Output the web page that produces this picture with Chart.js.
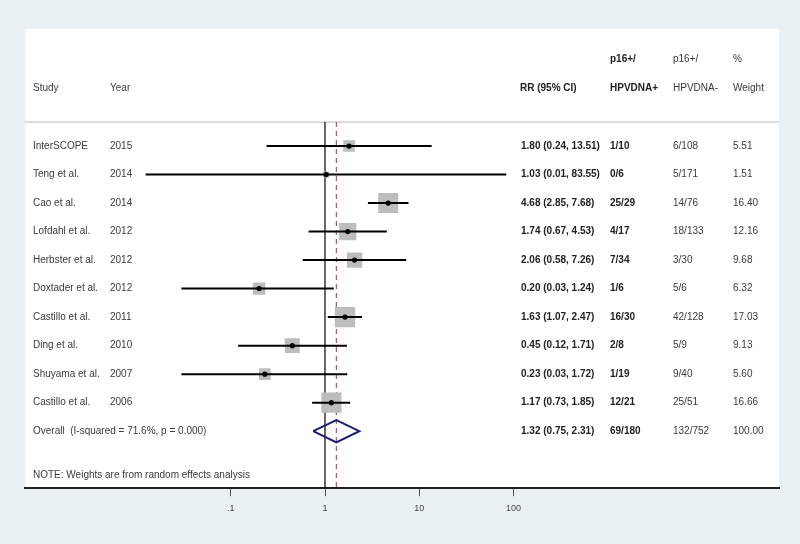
<!DOCTYPE html>
<html>
<head>
<meta charset="utf-8">
<title>Forest plot: p16+/HPV DNA RR</title>
<script src="https://cdn.jsdelivr.net/npm/chart.js@4.4.1/dist/chart.umd.min.js"></script>
<style>
  html, body { margin: 0; padding: 0; background: #e9f0f3; }
  #wrap { width: 800px; height: 544px; position: relative; }
</style>
</head>
<body>
<div id="wrap"><canvas id="forest" width="800" height="544"></canvas></div>
<script>
// Study rows (top to bottom)
var studies = ['InterSCOPE', 'Teng et al.', 'Cao et al.', 'Lofdahl et al.', 'Herbster et al.',
               'Doxtader et al.', 'Castillo et al.', 'Ding et al.', 'Shuyama et al.', 'Castillo et al.'];
var years = ['2015', '2014', '2014', '2012', '2012', '2012', '2011', '2010', '2007', '2006'];
var rr = [1.80, 1.03, 4.68, 1.74, 2.06, 0.20, 1.63, 0.45, 0.23, 1.17];
var ciLow = [0.24, 0.0125, 2.85, 0.67, 0.58, 0.03, 1.07, 0.12, 0.03, 0.73];
var ciHigh = [13.51, 83.55, 7.68, 4.53, 7.26, 1.24, 2.47, 1.71, 1.72, 1.85];
var posCounts = ['1/10', '0/6', '25/29', '4/17', '7/34', '1/6', '16/30', '2/8', '1/19', '12/21'];
var negCounts = ['6/108', '5/171', '14/76', '18/133', '3/30', '5/6', '42/128', '5/9', '9/40', '25/51'];
var weights = [5.51, 1.51, 16.40, 12.16, 9.68, 6.32, 17.03, 9.13, 5.60, 16.66];

// Pooled estimate
var overallLabel = 'Overall  (I-squared = 71.6%, p = 0.000)';
var overallRR = 1.32;
var overallCI = [0.75, 2.31];
var overallPos = '69/180';
var overallNeg = '132/752';
var overallWeight = '100.00';

// Axis
var xTicks = [0.1, 1, 10, 100];
var xTickLabels = ['.1', '1', '10', '100'];

var noteText = 'NOTE: Weights are from random effects analysis';

function rrText(est, lo, hi) {
  return est.toFixed(2) + ' (' + lo.toFixed(2) + ', ' + hi.toFixed(2) + ')';
}

var overallRow = studies.length;
var datasets = [];

// reference lines (null effect and pooled estimate)
datasets.push({
  type: 'line', order: 10,
  data: [{ x: 1, y: -0.84 }, { x: 1, y: 12 }],
  borderColor: '#000', borderWidth: 1.2, pointRadius: 0
});
datasets.push({
  type: 'line', order: 9,
  data: [{ x: overallRR, y: -0.84 }, { x: overallRR, y: 12 }],
  borderColor: '#9c5a72', borderWidth: 1.2, borderDash: [5, 4], pointRadius: 0
});

// weight boxes (area proportional to weight)
datasets.push({
  type: 'scatter', order: 8,
  data: rr.map(function(v, i) { return { x: v, y: i }; }),
  pointStyle: 'rect',
  pointRadius: weights.map(function(w) { return 4.94 * Math.sqrt(w) / Math.SQRT2; }),
  backgroundColor: '#bdbdbd', borderColor: '#bdbdbd', borderWidth: 0
});

// confidence intervals
rr.forEach(function(v, i) {
  datasets.push({
    type: 'line', order: 5,
    data: [{ x: ciLow[i], y: i }, { x: ciHigh[i], y: i }],
    borderColor: '#000', borderWidth: 2, pointRadius: 0
  });
});

// point estimates
datasets.push({
  type: 'scatter', order: 2,
  data: rr.map(function(v, i) { return { x: v, y: i }; }),
  pointStyle: 'circle', pointRadius: 2.6,
  backgroundColor: '#000', borderColor: '#000', borderWidth: 0
});

// pooled diamond
datasets.push({
  type: 'line', order: 1,
  data: [
    { x: overallCI[0], y: overallRow },
    { x: overallRR, y: overallRow - 0.39 },
    { x: overallCI[1], y: overallRow },
    { x: overallRR, y: overallRow + 0.39 },
    { x: overallCI[0], y: overallRow }
  ],
  borderColor: '#1c1c78', borderWidth: 2, pointRadius: 0, fill: false, tension: 0
});

var tablePlugin = {
  id: 'forestTable',
  beforeDraw: function(chart) {
    var a = chart.chartArea, c = chart.ctx;
    c.save();
    c.fillStyle = '#ffffff';
    c.fillRect(a.left, a.top, a.right - a.left, a.bottom - a.top);
    // header separator
    var ys = chart.scales.y.getPixelForValue(-0.84);
    c.strokeStyle = '#dcdcdc';
    c.lineWidth = 2;
    c.beginPath();
    c.moveTo(a.left, ys);
    c.lineTo(a.right, ys);
    c.stroke();
    c.restore();
  },
  afterDatasetsDraw: function(chart) {
    var c = chart.ctx, ys = chart.scales.y;
    var normal = '10px "Liberation Sans", Arial, sans-serif';
    var bold = 'bold 10px "Liberation Sans", Arial, sans-serif';
    function txt(s, x, row, font, color) {
      c.font = font;
      c.fillStyle = color || '#3a3a3a';
      c.fillText(s, x, ys.getPixelForValue(row));
    }
    c.save();
    c.textBaseline = 'middle';
    c.textAlign = 'left';

    // header
    txt('p16+/', 610, -3.05, bold, '#222');
    txt('p16+/', 673, -3.05, normal);
    txt('%', 733, -3.05, normal);
    txt('Study', 33, -2.03, normal);
    txt('Year', 110, -2.03, normal);
    txt('RR (95% CI)', 520, -2.03, bold, '#222');
    txt('HPVDNA+', 610, -2.03, bold, '#222');
    txt('HPVDNA-', 673, -2.03, normal);
    txt('Weight', 733, -2.03, normal);

    studies.forEach(function(s, i) {
      txt(s, 33, i, normal);
      txt(years[i], 110, i, normal);
      txt(rrText(rr[i], ciLow[i], ciHigh[i]), 521, i, bold, '#222');
      txt(posCounts[i], 610, i, bold, '#222');
      txt(negCounts[i], 673, i, normal);
      txt(weights[i].toFixed(2), 733, i, normal);
    });

    txt(overallLabel, 33, overallRow, normal);
    txt(rrText(overallRR, overallCI[0], overallCI[1]), 521, overallRow, bold, '#222');
    txt(overallPos, 610, overallRow, bold, '#222');
    txt(overallNeg, 673, overallRow, normal);
    txt(overallWeight, 733, overallRow, normal);

    txt(noteText, 33, 11.54, normal);
    c.restore();
  }
};

new Chart(document.getElementById('forest'), {
  type: 'scatter',
  data: { datasets: datasets },
  options: {
    responsive: false,
    animation: false,
    events: [],
    layout: { padding: { left: 25, right: 21, top: 29, bottom: 23 } },
    plugins: { legend: { display: false }, tooltip: { enabled: false } },
    scales: {
      x: {
        type: 'logarithmic',
        min: Math.pow(10, (25 - 325) / 94.3),
        max: Math.pow(10, (779 - 325) / 94.3),
        afterBuildTicks: function(scale) {
          scale.ticks = xTicks.map(function(v) { return { value: v }; });
        },
        ticks: {
          autoSkip: false,
          maxRotation: 0,
          padding: 7,
          color: '#444',
          font: { family: '"Liberation Sans", Arial, sans-serif', size: 9 },
          callback: function(v) {
            var k = xTicks.indexOf(v);
            return k >= 0 ? xTickLabels[k] : '';
          }
        },
        grid: { drawOnChartArea: false, drawTicks: true, tickLength: 8, color: '#555', lineWidth: 1 },
        border: { display: true, color: '#222', width: 2 }
      },
      y: {
        type: 'linear',
        display: false,
        reverse: true,
        min: -4.105,
        max: 12
      }
    }
  },
  plugins: [tablePlugin]
});
</script>
</body>
</html>
